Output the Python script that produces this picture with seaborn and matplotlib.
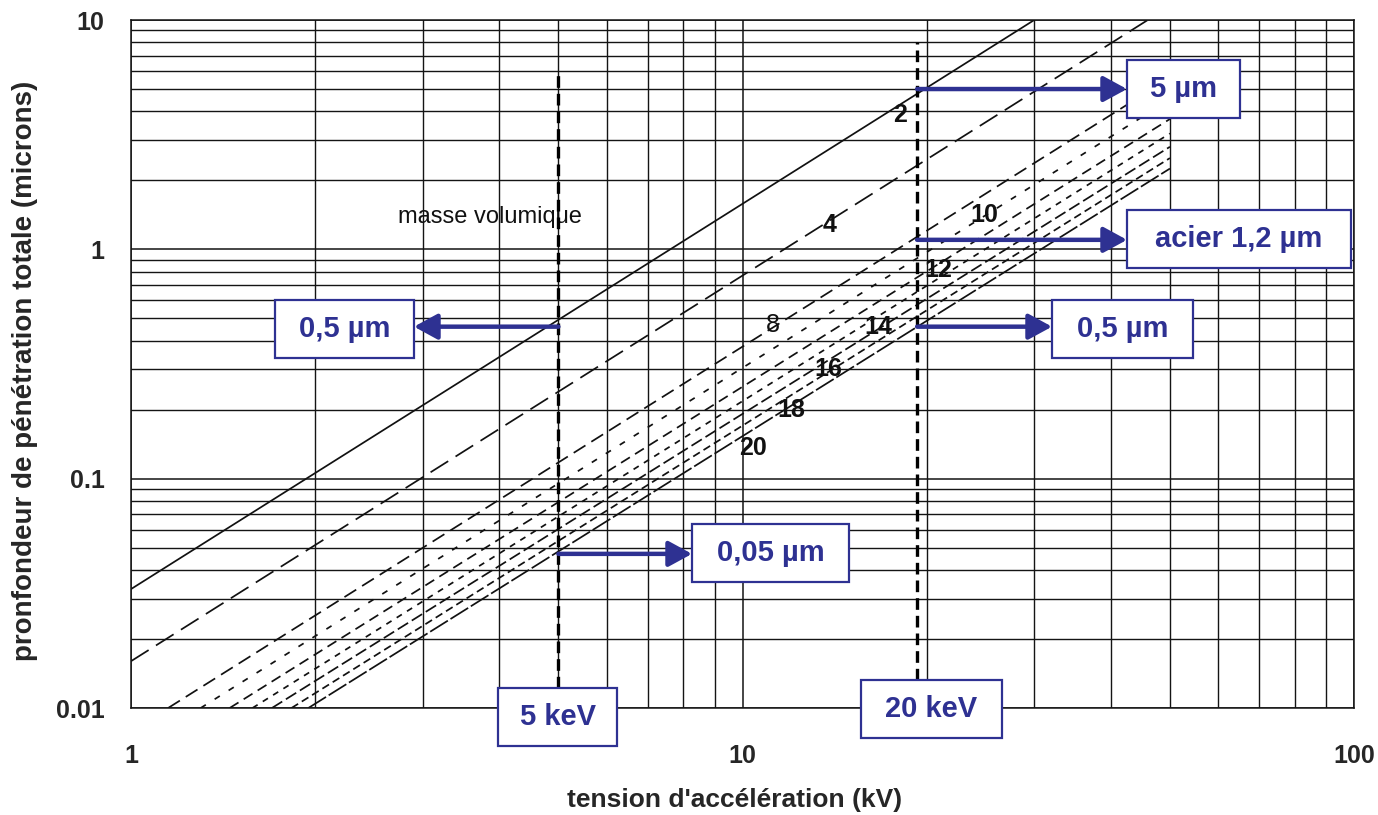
import numpy as np
import pandas as pd
import matplotlib
matplotlib.use("Agg")
import matplotlib.pyplot as plt
import matplotlib.ticker as mticker
from matplotlib.patches import Rectangle
import seaborn as sns

# density curves (masse volumique): two end points each
densities = [2, 4, 8, 10, 12, 14, 16, 18, 20]
kv_start = [1.0, 1.0, 1.15, 1.3, 1.45, 1.58, 1.7, 1.83, 1.95]
depth_start = [0.033, 0.016, 0.01, 0.01, 0.01, 0.01, 0.01, 0.01, 0.01]
kv_end = [30, 46, 50, 50, 50, 50, 50, 50, 50]
depth_end = [10, 10, 5.6, 4.5, 3.7, 3.2, 2.8, 2.5, 2.25]

# curve labels (kV, depth)
label_kv = [18.1, 13.9, 11.2, 24.9, 20.9, 16.7, 13.8, 12.0, 10.4]
label_depth = [3.86, 1.28, 0.47, 1.41, 0.81, 0.46, 0.30, 0.20, 0.136]

# marked voltages and read depths
mark_kv = [5, 19.3]
mark_top = [6.06, 8.0]
mark_bottom = [0.0122, 0.0132]
arrow_kv = [19.3, 19.3, 19.3, 5, 5]
arrow_depth = [5.0, 1.1, 0.46, 0.46, 0.047]
arrow_text = ["5 µm", "acier 1,2 µm", "0,5 µm", "0,5 µm", "0,05 µm"]

x_ticks = [1, 10, 100]
x_ticklabels = ["1", "10", "100"]
y_ticks = [0.01, 0.1, 1, 10]
y_ticklabels = ["0.01", "0.1", "1", "10"]

W, H = 1378, 815
BLUE = "#2e3192"

sns.set_style("white")
plt.rcParams["font.family"] = ["Liberation Sans", "DejaVu Sans"]

rows = []
for d, x0, y0, x1, y1 in zip(densities, kv_start, depth_start, kv_end, depth_end):
    rows.append({"kv": x0, "depth": y0, "density": d})
    rows.append({"kv": x1, "depth": y1, "density": d})
df = pd.DataFrame(rows)

dash_styles = {2: "", 4: (12, 5), 8: (8, 4), 10: (3.5, 6), 12: (6, 3.5),
               14: (3.5, 3.5), 16: (7, 2.5), 18: (4.5, 2.5), 20: (12, 1.8)}

fig = plt.figure(figsize=(W / 100, H / 100), dpi=100)
ax = fig.add_axes([131 / W, 1 - 708 / H, (1354 - 131) / W, (708 - 20) / H])
ax.set_xscale("log")
ax.set_yscale("log")

sns.lineplot(data=df, x="kv", y="depth", hue="density", style="density",
             palette=["#111111"] * len(densities), dashes=dash_styles,
             linewidth=1.25, legend=False, sort=False, ax=ax)

ax.set_xlim(1, 100)
ax.set_ylim(0.01, 10)

# log grid, majors + minors
ax.xaxis.set_major_locator(mticker.FixedLocator(x_ticks))
ax.xaxis.set_major_formatter(mticker.FixedFormatter(x_ticklabels))
ax.yaxis.set_major_locator(mticker.FixedLocator(y_ticks))
ax.yaxis.set_major_formatter(mticker.FixedFormatter(y_ticklabels))
ax.xaxis.set_minor_locator(mticker.LogLocator(base=10, subs=np.arange(2, 10)))
ax.yaxis.set_minor_locator(mticker.LogLocator(base=10, subs=np.arange(2, 10)))
ax.xaxis.set_minor_formatter(mticker.NullFormatter())
ax.yaxis.set_minor_formatter(mticker.NullFormatter())
ax.grid(which="major", color="#141414", linewidth=1.1)
ax.grid(which="minor", color="#141414", linewidth=1.0)
ax.set_axisbelow(True)
ax.tick_params(which="major", direction="out", length=6, width=1, color="#141414")
ax.tick_params(axis="x", which="major", pad=20, labelsize=18)
ax.tick_params(axis="y", which="major", pad=13, labelsize=18)
ax.tick_params(which="minor", length=0)
for lab in ax.get_xticklabels() + ax.get_yticklabels():
    lab.set_fontweight("bold")
for sp in ax.spines.values():
    sp.set_color("#141414")
    sp.set_linewidth(1.1)
ax.set_xlabel("")
ax.set_ylabel("")

# curve labels
for d, lx, ly in zip(densities, label_kv, label_depth):
    ax.text(lx, ly, str(d), ha="center", va="center", fontsize=18,
            fontweight="normal" if d == 8 else "bold", color="#111111")
ax.text(3.87, 1.38, "masse volumique", ha="center", va="center",
        fontsize=17, color="#111111")

# vertical markers
for kv, top, bot in zip(mark_kv, mark_top, mark_bottom):
    ax.plot([kv, kv], [bot, top], color="black", linewidth=2.4,
            linestyle=(0, (3.5, 1.8)), zorder=5)

# boxes in figure pixels (left, top, right, bottom)
boxes = [(1127, 60, 1240, 118), (1127, 210, 1351, 268), (1052, 300, 1193, 358),
         (275, 300, 414, 358), (692, 524, 849, 582)]
arrow_tip_x = [1127, 1127, 1052, 414, 692]


def add_box(text, l, t, r, b):
    fig.add_artist(Rectangle((l / W, 1 - b / H), (r - l) / W, (b - t) / H,
                             transform=fig.transFigure, facecolor="white",
                             edgecolor=BLUE, linewidth=1.6, zorder=10))
    fig.text((l + r) / 2 / W, 1 - (t + b) / 2 / H, text, ha="center", va="center",
             fontsize=21, fontweight="bold", color=BLUE, zorder=11)


for txt, box, tipx, kv, dep in zip(arrow_text, boxes, arrow_tip_x, arrow_kv, arrow_depth):
    tip = ax.transData.transform((kv, dep))
    ax.annotate("", xy=(tipx, tip[1]), xycoords="figure pixels",
                xytext=(kv, dep), textcoords="data",
                arrowprops=dict(arrowstyle="-|>,head_length=1.1,head_width=0.6",
                                mutation_scale=13, color=BLUE, linewidth=3.2,
                                shrinkA=0, shrinkB=0),
                annotation_clip=False, zorder=6)
    add_box(txt, *box)

add_box("5 keV", 498, 688, 617, 746)
add_box("20 keV", 861, 680, 1002, 738)

# axis titles
fig.text(735 / W, 1 - 800 / H, "tension d'accélération (kV)", ha="center",
         va="center", fontsize=19, fontweight="bold")
fig.text(25 / W, 1 - 371 / H, "pronfondeur de pénétration totale (microns)",
         ha="center", va="center", rotation=90, fontsize=20, fontweight="bold")

fig.savefig("out.png", dpi=100)
